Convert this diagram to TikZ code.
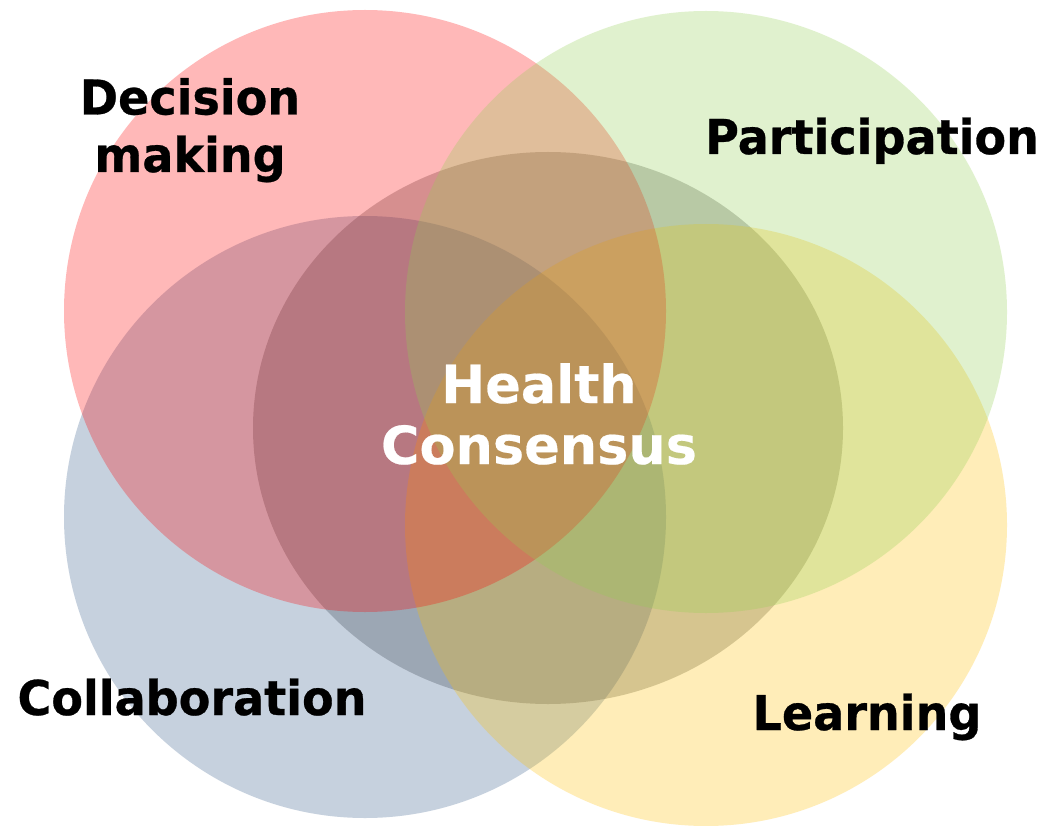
\documentclass[tikz,border=0pt]{standalone}
\usepackage{fontspec}
\setmainfont{DejaVu Sans}[BoldFeatures={FakeStretch=0.96,FakeBold=0.6}]
\newfontfamily\midfont{DejaVu Sans}[BoldFeatures={FakeBold=0.4}]
\definecolor{redc}{HTML}{FF0000}
\definecolor{greenc}{HTML}{92D050}
\definecolor{bluec}{HTML}{1F497D}
\definecolor{yellowc}{HTML}{FFC000}
\definecolor{centerc}{HTML}{C7C7C7}
\begin{document}
\begin{tikzpicture}[x=1pt,y=-1pt,
  disk/.style={draw=none, fill opacity=0.28},
  lab/.style={inner sep=0pt, anchor=base, align=center, font=\bfseries\fontsize{48}{57.5}\selectfont, text=black},
  midlab/.style={inner sep=0pt, anchor=base, align=center, font=\midfont\bfseries\fontsize{52.5}{61}\selectfont, text=white}]
\useasboundingbox (0,0) rectangle (1054,826);
\fill[white] (0,0) rectangle (1054,826);
% center (beneath all)
\fill[centerc] (548,428) ellipse [x radius=295, y radius=276];
% colored circles, bottom to top
\fill[bluec, disk, fill opacity=0.25] (365,517) circle [radius=301];
\fill[yellowc, disk] (706,525) circle [radius=301];
\fill[redc, disk] (365,311) circle [radius=301];
\fill[greenc, disk] (706,312) circle [radius=301];
% labels
\node[lab] (dm) at (190,172) {Decision\\making};
\node[lab] (pa) at (872,154) {Participation};
\node[lab] (co) at (192,715) {Collaboration};
\node[lab] (le) at (867,730) {Learning};
\node[midlab] (hc) at (539,464) {Health\\Consensus};
\end{tikzpicture}
\end{document}
